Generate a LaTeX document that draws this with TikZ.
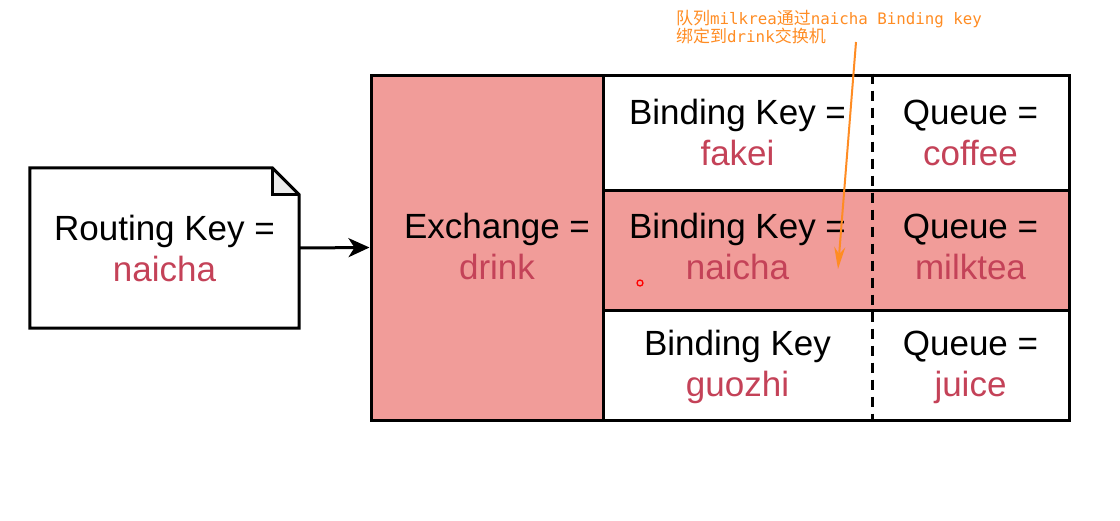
\documentclass[tikz,border=0pt]{standalone}
\usepackage{fontspec}
\setmainfont{Liberation Sans}
\newfontfamily\cjk{Noto Sans CJK SC}
\newfontfamily\monolat{DejaVu Sans Mono}
\usetikzlibrary{arrows.meta}
\definecolor{exfill}{RGB}{241,156,153}
\definecolor{valred}{RGB}{196,66,88}
\definecolor{memoorange}{RGB}{255,140,35}
\definecolor{foldgray}{RGB}{235,235,235}
\newcommand{\val}[1]{\textcolor{valred}{#1}}
\newcommand{\zh}[1]{{\cjk\fontsize{17}{19}\selectfont #1}}
\newcommand{\en}[1]{{\monolat\fontsize{15.8}{19}\selectfont #1}}

\begin{document}
\begin{tikzpicture}[
  x=1pt, y=-1pt,
  box/.style={draw, line width=3pt, inner sep=0pt},
  label/.style={inner sep=0pt, align=center,
    font=\fontsize{35}{41}\selectfont},
  arr/.style={-{Stealth[length=21pt, width=19pt, inset=6pt]}, line width=3pt},
  memoarr/.style={-{Stealth[length=22pt, width=11pt]}, line width=2pt,
    memoorange},
]
  \useasboundingbox (0,0) rectangle (1120,520);

  % Routing key note
  \node[label, minimum width=269, minimum height=160] (rk) at (164.5,248)
    {Routing Key =\\\val{naicha}};
  \fill[foldgray] ([xshift=-27]rk.north east) -- ([yshift=-27]rk.north east)
    -- ([xshift=-27,yshift=-27]rk.north east) -- cycle;
  \draw[line width=3pt, line join=miter]
    (rk.north west) -- ([xshift=-27]rk.north east)
    -- ([yshift=-27]rk.north east) -- (rk.south east)
    -- (rk.south west) -- cycle;
  \draw[line width=3pt]
    ([xshift=-27]rk.north east) -- ([xshift=-27,yshift=-27]rk.north east)
    -- ([yshift=-27]rk.north east);

  % Exchange column
  \node[box, fill=exfill, minimum width=232, minimum height=345] (ex)
    at (487,247.5) {};
  \node[label] (exl) at (497,246.5) {Exchange =\\\val{drink}};

  % Binding rows
  \node[box, minimum width=466, minimum height=115] (r1) at (836,132.5) {};
  \node[box, fill=exfill, minimum width=466, minimum height=120] (r2)
    at (836,250) {};
  \node[box, minimum width=466, minimum height=110] (r3) at (836,365) {};

  % Cell texts
  \node[label, minimum width=269] (bk1) at (737.5,132.5)
    {Binding Key =\\\val{fakei}};
  \node[label, minimum width=197] (q1) at (970.5,132.5)
    {Queue =\\\val{coffee}};
  \node[label, minimum width=269] (bk2) at (737.5,246.5)
    {Binding Key =\\\val{naicha}};
  \node[label, minimum width=197] (q2) at (970.5,246.5)
    {Queue =\\\val{milktea}};
  \node[label, minimum width=269] (bk3) at (737.5,367)
    {Binding Key\\\val{guozhi}};
  \node[label, minimum width=197] (q3) at (970.5,367)
    {Queue =\\\val{juice}};

  % Column divider
  \draw[line width=3pt, dash pattern=on 10pt off 7pt]
    (r1.north west -| bk1.east) -- (r3.south west -| bk3.east);

  % Flow
  \draw[arr] (rk.east) -- (ex.west);

  % Annotation
  \node[anchor=north west, inner sep=0pt, align=left, memoorange,
    font=\fontsize{17}{18.5}\selectfont] (memo) at (676,10)
    {\zh{队列}\en{milkrea}\zh{通过}\en{naicha Binding key}\\
     \zh{绑定到}\en{drink}\zh{交换机}};
  \coordinate (tail) at (856,42);
  \coordinate (tip) at (838,269);
  \draw[memoarr] (tail) -- (tip);

  % Cursor mark
  \node[circle, draw=red, line width=1.3pt, minimum size=6pt, inner sep=0pt]
    (dot) at (640,283) {};
\end{tikzpicture}
\end{document}
